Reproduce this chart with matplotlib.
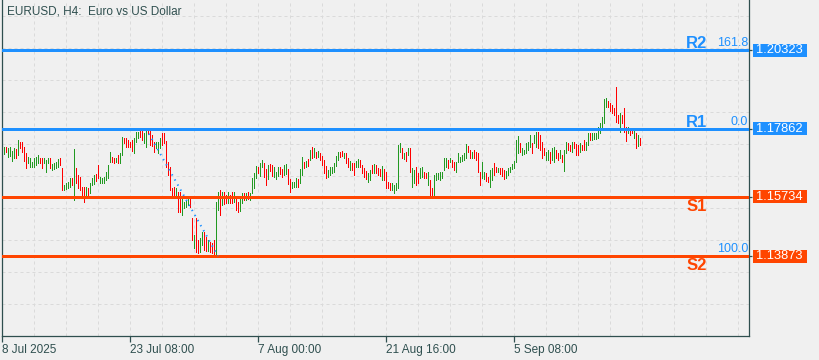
import numpy as np
import matplotlib
matplotlib.use('Agg')
import matplotlib.pyplot as plt
import matplotlib.transforms as mtransforms
from matplotlib.patches import Rectangle

plt.rcParams['font.family'] = ['Liberation Sans', 'DejaVu Sans']

# ---- chart data (H4 bars) ----
title = 'EURUSD, H4:  Euro vs US Dollar'
time_labels = ['8 Jul 2025', '23 Jul 08:00', '7 Aug 00:00', '21 Aug 16:00', '5 Sep 08:00']
time_label_bars = [0, 64, 128, 192, 256]

highs = [
    1.1729, 1.1729, 1.1726, 1.1729, 1.1716, 1.1726, 1.1723, 1.1751, 1.1744, 1.1744,
    1.1729, 1.1710, 1.1698, 1.1694, 1.1682, 1.1694, 1.1698, 1.1704, 1.1694, 1.1694,
    1.1694, 1.1688, 1.1694, 1.1694, 1.1676, 1.1679, 1.1682, 1.1691, 1.1694, 1.1663,
    1.1610, 1.1616, 1.1619, 1.1632, 1.1632, 1.1723, 1.1663, 1.1641, 1.1635, 1.1604,
    1.1604, 1.1604, 1.1601, 1.1616, 1.1632, 1.1641, 1.1644, 1.1672, 1.1635, 1.1632,
    1.1635, 1.1651, 1.1672, 1.1713, 1.1698, 1.1694, 1.1694, 1.1704, 1.1710, 1.1760,
    1.1757, 1.1757, 1.1751, 1.1744, 1.1751, 1.1757, 1.1776, 1.1776, 1.1779, 1.1779,
    1.1773, 1.1785, 1.1782, 1.1782, 1.1766, 1.1744, 1.1744, 1.1744, 1.1757, 1.1773,
    1.1773, 1.1748, 1.1682, 1.1666, 1.1601, 1.1604, 1.1601, 1.1588, 1.1588, 1.1569,
    1.1557, 1.1563, 1.1572, 1.1569, 1.1507, 1.1453, 1.1507, 1.1438, 1.1444, 1.1463,
    1.1463, 1.1447, 1.1438, 1.1431, 1.1428, 1.1438, 1.1557, 1.1588, 1.1594, 1.1588,
    1.1588, 1.1579, 1.1588, 1.1579, 1.1588, 1.1588, 1.1572, 1.1557, 1.1569, 1.1585,
    1.1585, 1.1585, 1.1588, 1.1585, 1.1632, 1.1647, 1.1669, 1.1666, 1.1679, 1.1688,
    1.1679, 1.1660, 1.1672, 1.1676, 1.1672, 1.1666, 1.1651, 1.1666, 1.1666, 1.1660,
    1.1672, 1.1676, 1.1660, 1.1629, 1.1619, 1.1619, 1.1632, 1.1629, 1.1660, 1.1698,
    1.1682, 1.1685, 1.1691, 1.1719, 1.1729, 1.1726, 1.1713, 1.1716, 1.1710, 1.1701,
    1.1688, 1.1669, 1.1657, 1.1666, 1.1666, 1.1679, 1.1701, 1.1713, 1.1713, 1.1716,
    1.1710, 1.1710, 1.1694, 1.1685, 1.1679, 1.1679, 1.1685, 1.1691, 1.1688, 1.1672,
    1.1663, 1.1654, 1.1647, 1.1657, 1.1672, 1.1676, 1.1672, 1.1663, 1.1660, 1.1669,
    1.1660, 1.1651, 1.1619, 1.1616, 1.1616, 1.1610, 1.1616, 1.1735, 1.1741, 1.1726,
    1.1710, 1.1713, 1.1726, 1.1726, 1.1663, 1.1657, 1.1666, 1.1647, 1.1663, 1.1666,
    1.1651, 1.1647, 1.1651, 1.1626, 1.1601, 1.1641, 1.1647, 1.1647, 1.1651, 1.1651,
    1.1694, 1.1694, 1.1688, 1.1694, 1.1688, 1.1682, 1.1682, 1.1710, 1.1698, 1.1704,
    1.1710, 1.1738, 1.1732, 1.1719, 1.1713, 1.1719, 1.1713, 1.1710, 1.1651, 1.1682,
    1.1651, 1.1647, 1.1635, 1.1657, 1.1663, 1.1679, 1.1666, 1.1663, 1.1663, 1.1663,
    1.1657, 1.1654, 1.1663, 1.1666, 1.1676, 1.1685, 1.1751, 1.1763, 1.1741, 1.1726,
    1.1719, 1.1741, 1.1744, 1.1766, 1.1741, 1.1766, 1.1776, 1.1776, 1.1766, 1.1744,
    1.1726, 1.1713, 1.1719, 1.1713, 1.1726, 1.1729, 1.1719, 1.1710, 1.1719, 1.1704,
    1.1719, 1.1744, 1.1741, 1.1735, 1.1744, 1.1744, 1.1738, 1.1735, 1.1741, 1.1735,
    1.1751, 1.1744, 1.1773, 1.1773, 1.1773, 1.1773, 1.1773, 1.1791, 1.1804, 1.1823,
    1.1879, 1.1882, 1.1873, 1.1866, 1.1860, 1.1851, 1.1917, 1.1829, 1.1835, 1.1829,
    1.1851, 1.1791, 1.1791, 1.1785, 1.1788, 1.1788, 1.1773, 1.1766, 1.1757,
]

lows = [
    1.1707, 1.1713, 1.1698, 1.1701, 1.1685, 1.1694, 1.1694, 1.1704, 1.1726, 1.1713,
    1.1685, 1.1663, 1.1679, 1.1666, 1.1666, 1.1666, 1.1672, 1.1679, 1.1679, 1.1663,
    1.1679, 1.1651, 1.1679, 1.1663, 1.1657, 1.1660, 1.1663, 1.1666, 1.1672, 1.1594,
    1.1594, 1.1597, 1.1601, 1.1604, 1.1610, 1.1563, 1.1616, 1.1601, 1.1594, 1.1572,
    1.1557, 1.1579, 1.1579, 1.1585, 1.1610, 1.1613, 1.1622, 1.1632, 1.1616, 1.1616,
    1.1616, 1.1626, 1.1632, 1.1682, 1.1682, 1.1679, 1.1682, 1.1679, 1.1679, 1.1704,
    1.1741, 1.1729, 1.1729, 1.1729, 1.1716, 1.1710, 1.1744, 1.1757, 1.1760, 1.1751,
    1.1741, 1.1729, 1.1769, 1.1735, 1.1732, 1.1713, 1.1726, 1.1710, 1.1726, 1.1735,
    1.1741, 1.1666, 1.1641, 1.1594, 1.1579, 1.1579, 1.1579, 1.1525, 1.1525, 1.1516,
    1.1538, 1.1541, 1.1547, 1.1541, 1.1438, 1.1413, 1.1400, 1.1397, 1.1400, 1.1422,
    1.1407, 1.1403, 1.1403, 1.1400, 1.1397, 1.1391, 1.1391, 1.1532, 1.1516, 1.1547,
    1.1550, 1.1554, 1.1554, 1.1554, 1.1554, 1.1557, 1.1532, 1.1525, 1.1529, 1.1554,
    1.1563, 1.1563, 1.1566, 1.1563, 1.1585, 1.1601, 1.1632, 1.1647, 1.1638, 1.1666,
    1.1635, 1.1610, 1.1629, 1.1654, 1.1638, 1.1635, 1.1629, 1.1638, 1.1644, 1.1635,
    1.1641, 1.1644, 1.1613, 1.1588, 1.1601, 1.1604, 1.1604, 1.1604, 1.1616, 1.1641,
    1.1663, 1.1666, 1.1669, 1.1688, 1.1694, 1.1698, 1.1694, 1.1698, 1.1688, 1.1672,
    1.1647, 1.1632, 1.1635, 1.1641, 1.1647, 1.1651, 1.1669, 1.1688, 1.1698, 1.1701,
    1.1694, 1.1679, 1.1666, 1.1657, 1.1657, 1.1641, 1.1666, 1.1666, 1.1666, 1.1647,
    1.1635, 1.1629, 1.1619, 1.1626, 1.1647, 1.1647, 1.1647, 1.1641, 1.1638, 1.1626,
    1.1626, 1.1601, 1.1601, 1.1594, 1.1594, 1.1585, 1.1594, 1.1601, 1.1713, 1.1694,
    1.1691, 1.1685, 1.1704, 1.1651, 1.1604, 1.1616, 1.1610, 1.1616, 1.1632, 1.1635,
    1.1632, 1.1632, 1.1610, 1.1579, 1.1576, 1.1579, 1.1626, 1.1629, 1.1626, 1.1632,
    1.1657, 1.1666, 1.1663, 1.1682, 1.1666, 1.1657, 1.1651, 1.1682, 1.1682, 1.1685,
    1.1688, 1.1694, 1.1713, 1.1694, 1.1694, 1.1694, 1.1688, 1.1651, 1.1610, 1.1632,
    1.1629, 1.1622, 1.1619, 1.1604, 1.1626, 1.1641, 1.1651, 1.1651, 1.1644, 1.1638,
    1.1629, 1.1632, 1.1641, 1.1651, 1.1660, 1.1663, 1.1682, 1.1710, 1.1713, 1.1704,
    1.1707, 1.1710, 1.1719, 1.1729, 1.1710, 1.1741, 1.1729, 1.1726, 1.1719, 1.1694,
    1.1704, 1.1688, 1.1688, 1.1679, 1.1688, 1.1682, 1.1694, 1.1688, 1.1694, 1.1682,
    1.1654, 1.1710, 1.1719, 1.1716, 1.1713, 1.1726, 1.1704, 1.1704, 1.1713, 1.1719,
    1.1719, 1.1719, 1.1735, 1.1751, 1.1751, 1.1754, 1.1754, 1.1757, 1.1773, 1.1788,
    1.1804, 1.1854, 1.1854, 1.1841, 1.1835, 1.1829, 1.1807, 1.1804, 1.1776, 1.1804,
    1.1776, 1.1748, 1.1773, 1.1766, 1.1773, 1.1757, 1.1726, 1.1732, 1.1735,
]

# G = bullish bar, R = bearish bar
direction = list(
    "GRGGGGRGRR" "RRGGGGGGRR" "GGGRGGGGRR" "GGGGRGRRRR" "RGRGGGRRGG"
    "GGGGRRGRGG" "RRRRRGGGRR" "GGRRRRGGGR" "RRRRRRGRRG" "GGGRRGRRGG"
    "RRGRRRGGRG" "RRGRRGRRGG" "RGRGGGGRGG" "RRGRRGGGRR" "GGRRGGGRGG"
    "RGRGRGRGRR" "RRGGGGGGRR" "GRRGRRGGRR" "RRGGRGRRRG" "RRRRGGGGGR"
    "GRGRGGRRGG" "RRGRRGGGGG" "GGRGRRGGGG" "GGRRGRRRRG" "GRRGGRRGRR"
    "RGGGGGGGRG" "GGGGRGGRRR" "RGGRGGRRGR" "GGRRGRRRGR" "RGGRGGGGGG"
    "GGRRRRRRGR" "RRGRRGRGR"
)

level_names = ['R2', 'R1', 'S1', 'S2']
level_prices = [1.20323, 1.17862, 1.15734, 1.13873]
level_labels = ['1.20323', '1.17862', '1.15734', '1.13873']

fib_labels = ['161.8', '0.0', '100.0']
fib_prices = [1.20323, 1.17862, 1.13873]
fib_bars = [72, 108]          # swing high bar -> swing low bar
fib_line_prices = [1.17862, 1.13873]

# ---- style ----
bg = '#f0f0f0'
frame = '#2f4f4f'
up_col = '#229922'
dn_col = '#ff0000'
blue = '#1e90ff'
orange = '#ff4500'

y_top, y_bottom = 1.21889, 1.11369
n_bars = len(highs)
assert len(lows) == n_bars == len(direction)

fig = plt.figure(figsize=(8.2, 3.6), dpi=100, facecolor=bg)
ax = fig.add_axes([2 / 820, 24 / 360, 747 / 820, 336 / 360])
ax.set_facecolor(bg)
ax.set_xlim(0, 373.5)
ax.set_ylim(y_bottom, y_top)

# grid
px = (y_top - y_bottom) / 336
ax.set_xticks(np.arange(16, 373, 16), minor=True)
ax.set_yticks([y_top - (16 + 32 * k) * px for k in range(10)], minor=True)
grid_kw = dict(color='#dadada', linestyle=(0, (3, 3)), linewidth=0.72)
ax.xaxis.grid(True, which='both', **grid_kw)
ax.yaxis.grid(True, which='minor', **grid_kw)
ax.set_axisbelow(True)

# bars
x = np.arange(1, n_bars + 1)
colors = [up_col if d == 'G' else dn_col for d in direction]
ax.vlines(x, lows, highs, colors=colors, linewidth=0.7, antialiased=False, zorder=3)

# support / resistance lines
level_colors = [blue if n.startswith('R') else orange for n in level_names]
for name, price, col in zip(level_names, level_prices, level_colors):
    ax.axhline(price, color=col, linewidth=1.8, antialiased=False, zorder=4)
    if name.startswith('R'):
        ax.annotate(name, xy=(0.9297, price), xycoords=ax.get_yaxis_transform(),
                    xytext=(0, 2), textcoords='offset pixels', ha='center',
                    va='baseline', color=col, fontsize=12, fontweight='bold', zorder=5)
    else:
        ax.annotate(name, xy=(0.9297, price), xycoords=ax.get_yaxis_transform(),
                    xytext=(0, -2), textcoords='offset pixels', ha='center',
                    va='top', color=col, fontsize=12, fontweight='bold', zorder=5)

# fibonacci
ax.plot(fib_bars, fib_line_prices, color=blue, linestyle=(0, (0.7, 2.3)),
        linewidth=1.4, zorder=4)
for lbl, price in zip(fib_labels, fib_prices):
    ax.annotate(lbl, xy=(0.9987, price), xycoords=ax.get_yaxis_transform(),
                xytext=(0, 4), textcoords='offset pixels', ha='right',
                va='baseline', color=blue, fontsize=9, zorder=5)

# price tags on the right scale
trans = mtransforms.blended_transform_factory(ax.transAxes, ax.transData)
for lbl, price, col in zip(level_labels, level_prices, level_colors):
    ax.add_patch(Rectangle((751 / 747, price - 6.5 * px), 54 / 747, 13 * px,
                           transform=trans, facecolor=col, edgecolor='none',
                           clip_on=False, zorder=6))
    ax.text(754.5 / 747, price, lbl, transform=trans, ha='left', va='center',
            color='white', fontsize=9.3, clip_on=False, zorder=7)

# axes frame
for side in ['left', 'bottom', 'right']:
    ax.spines[side].set_color(frame)
    ax.spines[side].set_linewidth(0.9)
ax.spines['top'].set_visible(False)

ax.set_xticks(time_label_bars)
ax.set_xticklabels(time_labels)
for t in ax.get_xticklabels():
    t.set_horizontalalignment('left')
ax.tick_params(axis='x', which='major', length=4, width=0.9, color=frame,
               labelcolor=frame, labelsize=8.5, pad=2)
ax.tick_params(which='minor', length=0)

ax.yaxis.tick_right()
ax.set_yticks(level_prices)
ax.set_yticklabels([])
ax.tick_params(axis='y', which='major', length=2.5, width=0.9, color=frame)

fig.text(7 / 820, 1 - 12 / 360, title, ha='left', va='center',
         color=frame, fontsize=8.5)

fig.savefig('out.png', dpi=100, facecolor=bg)
